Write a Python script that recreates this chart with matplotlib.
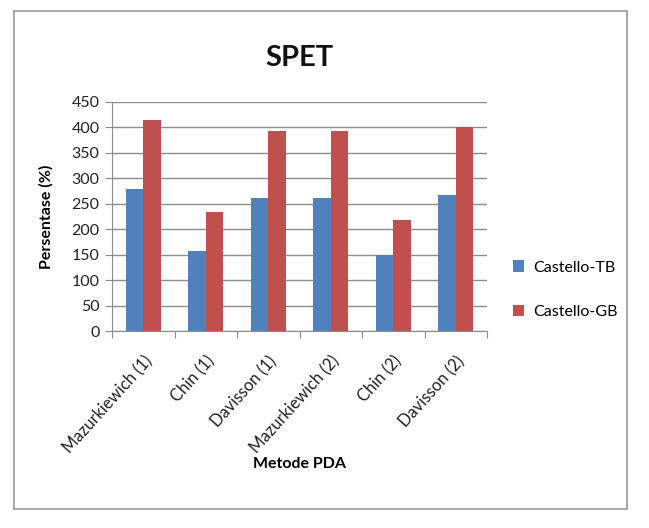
import matplotlib.pyplot as plt
import numpy as np
from matplotlib.patches import Rectangle

categories = ["Mazurkiewich (1)", "Chin (1)", "Davisson (1)",
              "Mazurkiewich (2)", "Chin (2)", "Davisson (2)"]
castello_tb = [278, 157, 262, 262, 150, 268]
castello_gb = [415, 234, 392, 392, 219, 400]

plt.rcParams["font.family"] = ["Lato", "DejaVu Sans"]

fig = plt.figure(figsize=(6.49, 5.28), dpi=100)
ax = fig.add_axes([0.1726, 0.373, 0.578, 0.434])

# outer chart border
fig.patches.append(Rectangle((14/649, 1-509/528), 613/649, 498/528,
                             transform=fig.transFigure, fill=False,
                             edgecolor="#9a9a9a", linewidth=1.2))

x = np.arange(len(categories))
w = 0.28
ax.bar(x - w/2, castello_tb, w, color="#4F81BD", label="Castello-TB", zorder=3)
ax.bar(x + w/2, castello_gb, w, color="#C0504D", label="Castello-GB", zorder=3)

ax.set_xlim(-0.5, len(categories) - 0.5)
ax.set_ylim(0, 450)
ax.set_yticks(range(0, 451, 50))
ax.yaxis.grid(True, color="#8c8c8c", linewidth=1.0, zorder=0)
ax.set_axisbelow(True)

ax.set_xticks(np.arange(len(categories) + 1) - 0.5, minor=False)
ax.set_xticklabels([])
ax.set_xticks(x, minor=True)
ax.set_xticklabels(categories, minor=True, rotation=48, ha="right",
                   rotation_mode="anchor", fontsize=12, color="#222222")
ax.tick_params(axis="x", which="minor", length=0, pad=16)
ax.tick_params(axis="x", which="major", length=5, color="#8c8c8c", direction="out")
ax.tick_params(axis="y", length=5, color="#8c8c8c", labelsize=11.5,
               labelcolor="#222222", pad=4)

for s in ["top", "right"]:
    ax.spines[s].set_visible(False)
for s in ["left", "bottom"]:
    ax.spines[s].set_color("#8c8c8c")

ax.set_title("SPET", fontsize=21, fontweight="bold", pad=26, color="#111111")
ax.set_ylabel("Persentase (%)", fontsize=11.5, fontweight="bold", labelpad=13)
ax.set_xlabel("Metode PDA", fontsize=11.5, fontweight="bold", labelpad=0)

ax.legend(loc="center left", bbox_to_anchor=(1.03, 0.18), frameon=False,
          fontsize=11.5, handlelength=0.7, handleheight=0.7,
          labelspacing=1.9, handletextpad=0.6)

fig.savefig("out.png", dpi=100)
